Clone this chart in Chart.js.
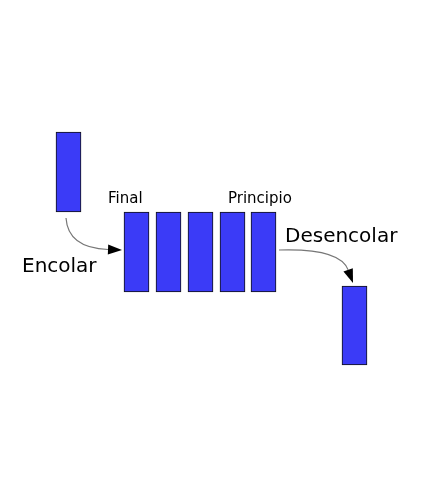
<!DOCTYPE html>
<html>
<head>
<meta charset="utf-8">
<script src="https://cdn.jsdelivr.net/npm/chart.js@4/dist/chart.umd.min.js"></script>
<style>
  html, body { margin: 0; padding: 0; background: #fff; }
  canvas { display: block; }
</style>
</head>
<body>
<canvas id="c" width="432" height="498"></canvas>
<script>
// diagram coordinates share one linear space (0..432 wide, 0..498 tall, y grows downwards)
const boxNames = ['nuevo', 'q1', 'q2', 'q3', 'q4', 'q5', 'salido'];
const boxCenters = [68.5, 136.5, 168.5, 200.5, 232.5, 263.5, 354.5];
const boxTops = [132, 212, 212, 212, 212, 212, 286];
const boxBottoms = [212, 292, 292, 292, 292, 292, 365];

const labelTexts = ['Final', 'Principio', 'Desencolar', 'Encolar'];
const labelX = [108, 228, 285, 22];
const labelY = [199, 199, 237, 267];
const labelSizes = [15, 15, 20, 20];

// arrows: start, control, end
const arrows = [
  { from: [66, 218], ctrl: [68, 248], to: [122, 250] },
  { from: [279, 250], ctrl: [340, 248], to: [353, 283] },
];

const extras = {
  id: 'extras',
  afterDatasetsDraw(chart) {
    const { ctx, scales: { x, y } } = chart;
    ctx.save();
    ctx.fillStyle = '#000';
    ctx.textBaseline = 'middle';
    labelTexts.forEach((t, i) => {
      ctx.font = labelSizes[i] + 'px "DejaVu Sans"';
      ctx.fillText(t, x.getPixelForValue(labelX[i]), y.getPixelForValue(labelY[i]));
    });
    arrows.forEach(a => {
      const p0 = [x.getPixelForValue(a.from[0]), y.getPixelForValue(a.from[1])];
      const pc = [x.getPixelForValue(a.ctrl[0]), y.getPixelForValue(a.ctrl[1])];
      const p1 = [x.getPixelForValue(a.to[0]), y.getPixelForValue(a.to[1])];
      const ang = Math.atan2(p1[1] - pc[1], p1[0] - pc[0]);
      const hl = 14, hw = 5;
      const bx = p1[0] - hl * Math.cos(ang), by = p1[1] - hl * Math.sin(ang);
      ctx.strokeStyle = '#777';
      ctx.lineWidth = 1.2;
      ctx.beginPath();
      ctx.moveTo(p0[0], p0[1]);
      ctx.quadraticCurveTo(pc[0], pc[1], bx, by);
      ctx.stroke();
      ctx.fillStyle = '#000';
      ctx.beginPath();
      ctx.moveTo(p1[0], p1[1]);
      ctx.lineTo(bx - hw * Math.sin(ang), by + hw * Math.cos(ang));
      ctx.lineTo(bx + hw * Math.sin(ang), by - hw * Math.cos(ang));
      ctx.closePath();
      ctx.fill();
    });
    ctx.restore();
  }
};

new Chart(document.getElementById('c'), {
  type: 'bar',
  data: {
    labels: boxNames,
    datasets: [{
      data: boxCenters.map((cx, i) => ({ x: cx, y: [boxTops[i], boxBottoms[i]] })),
      backgroundColor: '#3b3bf7',
      borderColor: '#111',
      borderWidth: 1,
      borderSkipped: false,
      barThickness: 25,
    }],
  },
  options: {
    responsive: false,
    animation: false,
    layout: { padding: 0 },
    scales: {
      x: { type: 'linear', min: 0, max: 432, offset: false, display: false },
      y: { min: 0, max: 498, reverse: true, display: false },
    },
    plugins: { legend: { display: false }, tooltip: { enabled: false } },
  },
  plugins: [extras],
});
</script>
</body>
</html>
